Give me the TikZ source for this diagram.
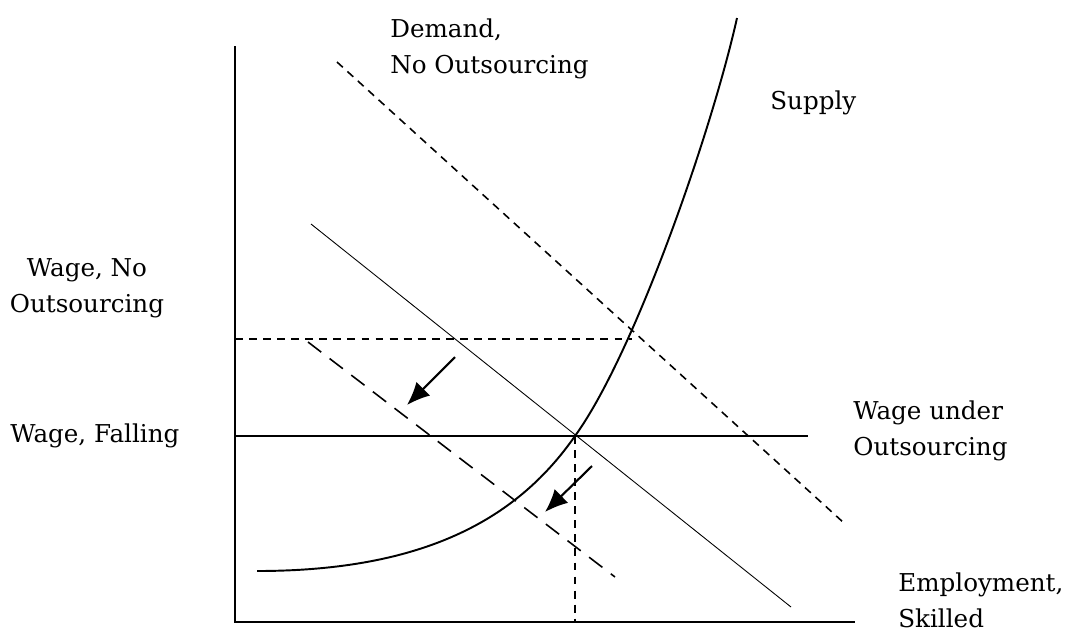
\documentclass[tikz,border=0pt]{standalone}
\usepackage{fontspec}
\setmainfont{DejaVu Serif}
\usetikzlibrary{arrows.meta}
\begin{document}
\begin{tikzpicture}[
    x=0.02cm, y=-0.02cm,  % une unité = un pixel de la figure
    axe/.style={line width=1.1pt},
    salaire/.style={line width=0.9pt},
    pointille/.style={line width=0.9pt, dash pattern=on 4.5pt off 3.5pt},
    tirets/.style={line width=0.9pt, dash pattern=on 9.5pt off 6pt},
    offre/.style={line width=1.1pt},
    demande/.style={line width=0.5pt},
    fleche/.style={line width=1.2pt, -{Latex[length=13pt,width=11pt]}},
    label/.style={font=\fontsize{14}{20.5}\selectfont, inner sep=0pt}
]
\useasboundingbox (0,0) rectangle (1071,633);
% Axes
\coordinate (O) at (235,622);
\coordinate (ymax) at (235,46);
\coordinate (xmax) at (855,622);
\draw[axe] (ymax) -- (O) -- (xmax);
% Salaires
\coordinate (wf0) at (235,436);
\coordinate (wf1) at (808,436);
\draw[salaire] (wf0) -- (wf1);
\coordinate (wn0) at (235,339);
\coordinate (wn1) at (632,339);
\draw[pointille] (wn0) -- (wn1);
\coordinate (eq) at (575,436);
\coordinate (eqx) at (575,622);
\draw[pointille] (eq) -- (eqx);
% Offre
\coordinate (s0) at (257,571);
\coordinate (s1) at (737,18);
\draw[offre] (s0) .. controls (430,571) and (520,515) .. (eq)
    .. controls (635,353) and (712,130) .. (s1);
% Demandes
\coordinate (d0) at (337,62);
\coordinate (d1) at (844,523);
\draw[pointille] (d0) -- (d1);
\coordinate (m0) at (311,224);
\coordinate (m1) at (791,607);
\draw[demande] (m0) -- (m1);
\coordinate (n0) at (308,342);
\coordinate (n1) at (615,577);
\draw[tirets] (n0) -- (n1);
% Flèches
\coordinate (a0) at (455,357);
\coordinate (a1) at (407,405);
\draw[fleche] (a0) -- (a1);
\coordinate (b0) at (592,466);
\coordinate (b1) at (545,512);
\draw[fleche] (b0) -- (b1);
% Étiquettes
\node[label, anchor=west, align=left] (dem) at (390,49) {Demand,\\No Outsourcing};
\node[label, anchor=west] (sup) at (770,103) {Supply};
\node[label, align=center] (wno) at (87,288) {Wage, No\\Outsourcing};
\node[label, anchor=west] (wfa) at (10,436) {Wage, Falling};
\node[label, anchor=west, align=left] (wun) at (853,431) {Wage under\\Outsourcing};
\node[label, anchor=west, align=left] (emp) at (898,600) {Employment,\\Skilled};
\end{tikzpicture}
\end{document}
